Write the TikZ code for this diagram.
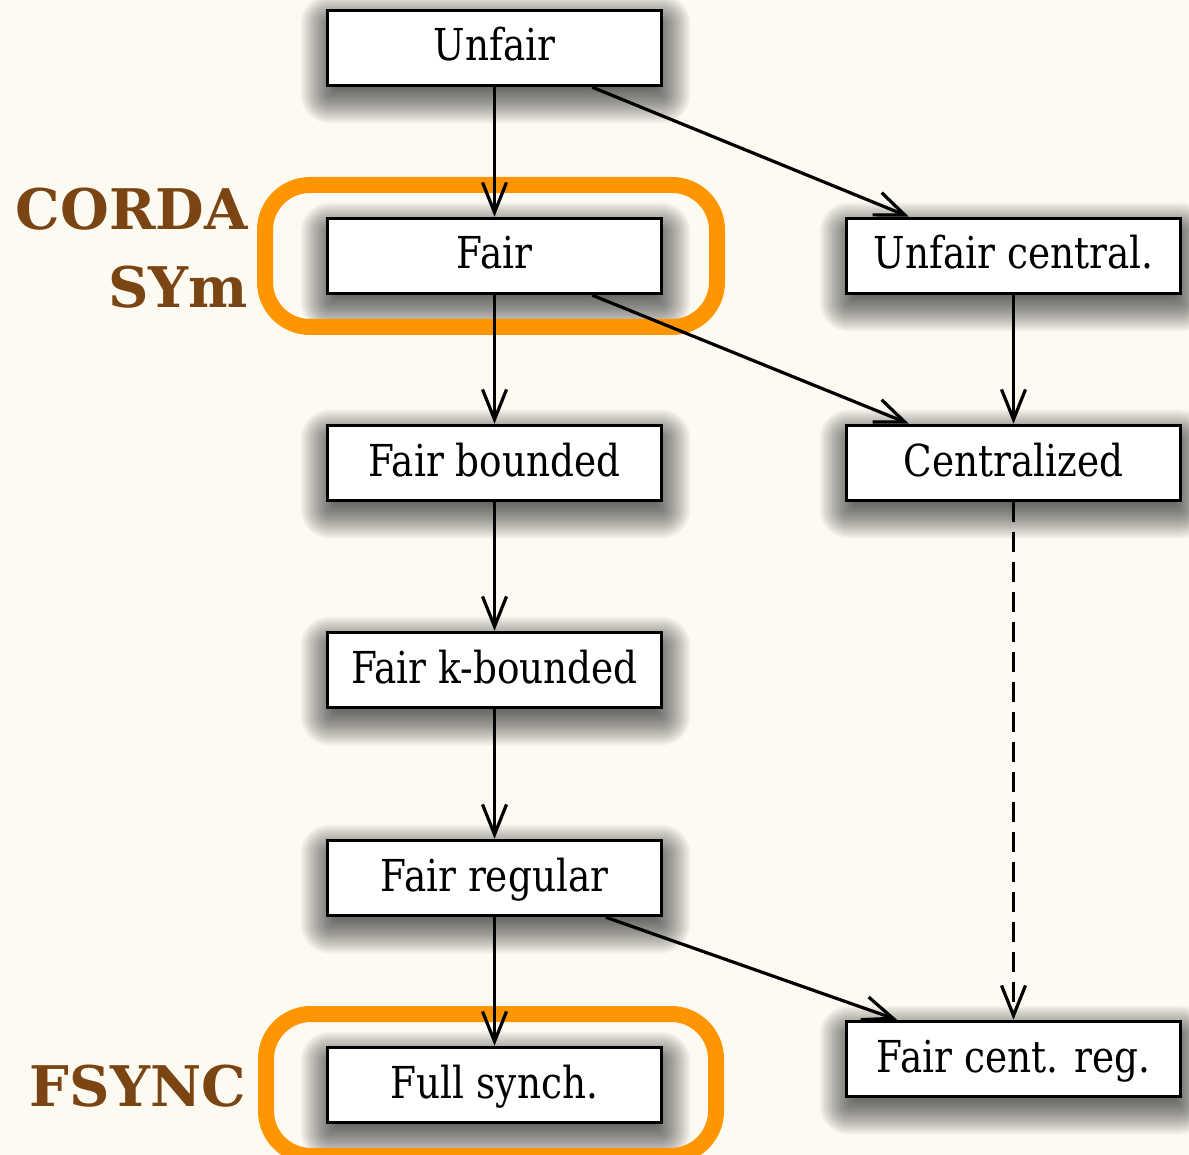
\documentclass[tikz,border=0pt]{standalone}
\usepackage{fontspec}
\setmainfont{DejaVu Serif}[FakeStretch=0.85]
\newfontfamily\lblfont{DejaVu Serif}
\usetikzlibrary{arrows.meta,calc}
\definecolor{bgc}{RGB}{253,250,242}
\definecolor{ringc}{RGB}{255,149,0}
\definecolor{lblc}{RGB}{122,69,19}
\pgfdeclarelayer{shadowlayer}
\pgfsetlayers{shadowlayer,main}
\newcommand\mkshadow[1]{%
  \foreach \k in {0,...,18}{%
    \pgfmathsetmacro\e{-10+2*\k}%
    \pgfmathsetmacro\rc{max(\e,0)+3}%
    \fill[black, fill opacity=0.045, rounded corners=\rc pt]
      ($(#1.south west)+(-\e+1,10+\e)$) rectangle ($(#1.north east)+(\e+1,12-\e)$);
  }}
\begin{document}
\begin{tikzpicture}[x=1pt,y=-1pt,
  box/.style={draw=black, line width=3.5pt, fill=white, minimum width=334pt, minimum height=75pt,
    inner sep=0pt, text height=32pt, text depth=6pt, font=\fontsize{44}{50}\selectfont},
  conn/.style={line width=3.2pt, -{Straight Barb[length=30pt,width=24pt,line width=3.2pt]}},
  dconn/.style={conn, dash pattern=on 20pt off 10pt},
  ring/.style={draw=ringc, line width=16pt, rounded corners=45pt},
  lbl/.style={text=lblc, font=\lblfont\bfseries\fontsize{56}{60}\selectfont, anchor=base east, inner sep=0pt}]
\useasboundingbox (0,0) rectangle (1189,1155);
\begin{pgfonlayer}{shadowlayer}
\fill[bgc] (0,0) rectangle (1189,1155);
\end{pgfonlayer}
\clip (0,0) rectangle (1189,1155);

\node[box] (u) at (494.5,48) {Unfair};
\node[box] (f) at (494.5,256) {Fair};
\node[box] (fb) at (494.5,463) {Fair bounded};
\node[box] (fk) at (494.5,670) {Fair k-bounded};
\node[box] (fr) at (494.5,878) {Fair regular};
\node[box] (fs) at (494.5,1085) {Full synch.};
\node[box] (uc) at (1013.5,256) {Unfair central.};
\node[box] (c) at (1013.5,463) {Centralized};
\node[box] (fcr) at (1013.5,1059) {Fair cent. reg.};

\begin{pgfonlayer}{shadowlayer}
\foreach \n in {u,f,fb,fk,fr,fs,uc,c,fcr}{\mkshadow{\n}}
\end{pgfonlayer}

\node[lbl] (corda) at (248,230) {CORDA};
\node[lbl] (sym) at (248,308) {SYm};
\node[lbl] (fsync) at (246,1106) {FSYNC};

\draw[ring] ($(f.center)+(-229.5,-71)$) rectangle ($(f.center)+(222.5,71)$);
\draw[ring] ($(fs.center)+(-228.5,-71)$) rectangle ($(fs.center)+(221.5,71)$);

\draw[conn] (u) -- (f);
\draw[conn] (f) -- (fb);
\draw[conn] (fb) -- (fk);
\draw[conn] (fk) -- (fr);
\draw[conn] (fr) -- (fs);
\draw[conn] (uc) -- (c);
\draw[dconn] (c) -- (fcr);
\draw[conn] ($(u.south west)!0.79!(u.south east)$) -- ($(uc.north west)!0.19!(uc.north east)$);
\draw[conn] ($(f.south west)!0.79!(f.south east)$) -- ($(c.north west)!0.19!(c.north east)$);
\draw[conn] ($(fr.south west)!0.83!(fr.south east)$) -- ($(fcr.north west)!0.155!(fcr.north east)$);
\end{tikzpicture}
\end{document}
